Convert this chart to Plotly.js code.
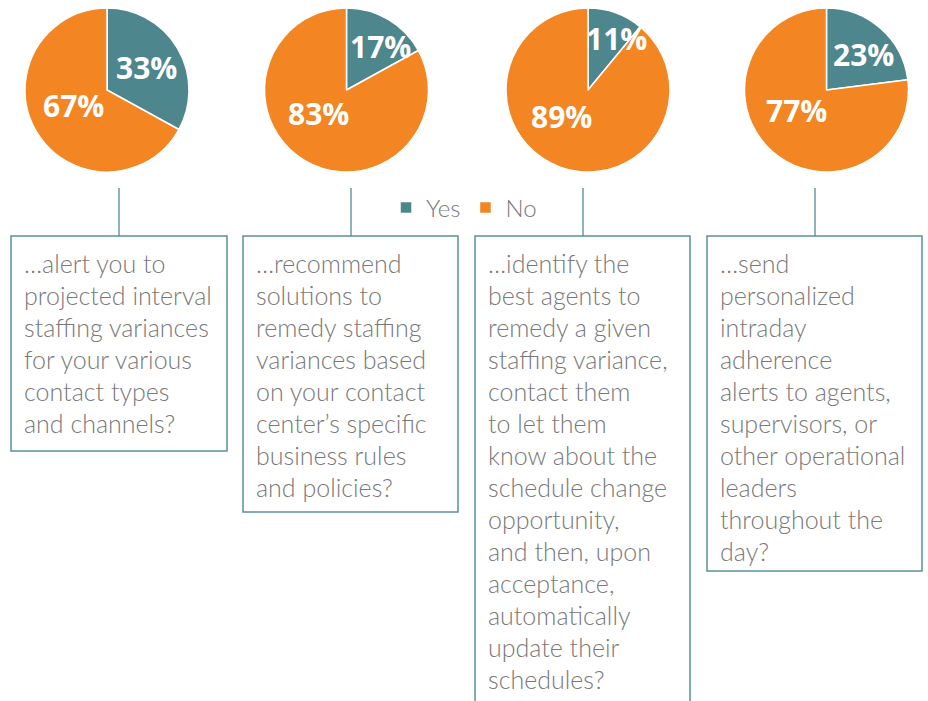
<!DOCTYPE html>
<html>
<head>
<meta charset="utf-8">
<script src="https://cdn.plot.ly/plotly-3.0.1.min.js"></script>
<style>html,body{margin:0;padding:0;background:#fff;}#chart{width:928px;height:701px;}</style>
</head>
<body>
<div id="chart"></div>
<script>
// ---- data ----
const categories = ['Yes', 'No'];
const yesPct = [33, 17, 11, 23];
const noPct = [67, 83, 89, 77];
const question1 = ['\u2026alert you to', 'projected interval', 'staffing variances', 'for your various', 'contact types', 'and channels?'];
const question2 = ['\u2026recommend', 'solutions to', 'remedy staffing', 'variances based', 'on your contact', 'center\u2019s specific', 'business rules', 'and policies?'];
const question3 = ['\u2026identify the', 'best agents to', 'remedy a given', 'staffing variance,', 'contact them', 'to let them', 'know about the', 'schedule change', 'opportunity,', 'and then, upon', 'acceptance,', 'automatically', 'update their', 'schedules?'];
const question4 = ['\u2026send', 'personalized', 'intraday', 'adherence', 'alerts to agents,', 'supervisors, or', 'other operational', 'leaders', 'throughout the', 'day?'];
const questions = [question1, question2, question3, question4];

// ---- layout helpers ----
const W = 928, H = 701;
const TEAL = '#4d868c', ORANGE = '#f38622', GRAY = '#797979';
const px = x => x / W;
const py = y => 1 - y / H;
const pieCx = [107, 346.5, 588, 826.5], pieCy = 90, pieR = 82;
const boxL = [11, 243, 475, 707], boxR = [227, 458, 690, 922];
const boxTop = 236, boxBottom = [451, 512, 706, 571];
const lineX = [119, 351, 583, 815];
const firstLineY = 263, lineStep = 32, textPad = 11;
const deg = Math.PI / 180;

const data = yesPct.map((y, i) => ({
  type: 'pie',
  labels: categories,
  values: [y, noPct[i]],
  sort: false,
  direction: 'clockwise',
  rotation: 0,
  marker: {colors: [TEAL, ORANGE], line: {color: '#ffffff', width: 1.5}},
  textinfo: 'none',
  hoverinfo: 'label+percent',
  domain: {x: [px(pieCx[i] - pieR), px(pieCx[i] + pieR)], y: [py(pieCy + pieR), py(pieCy - pieR)]},
  showlegend: i === 0
}));

const shapes = [];
const annotations = [];
const labelFont = {family: 'Open Sans', size: 30, color: '#ffffff', weight: 700};
yesPct.forEach((y, i) => {
  const tot = y + noPct[i];
  const fy = y / tot;
  // Yes label: near the slice's mid angle, pushed outward/clockwise for thin slices
  const aY = fy * Math.PI + (0.35 - fy) * 40 * deg;
  const kY = 0.56 + (0.33 - fy) * 0.7;
  annotations.push({xref: 'paper', yref: 'paper', showarrow: false, text: y + '%', font: labelFont,
    x: px(pieCx[i] + kY * pieR * Math.sin(aY)), y: py(pieCy - kY * pieR * Math.cos(aY)), xanchor: 'center', yanchor: 'middle'});
  // No label: mid angle of the large slice, biased towards the lower left
  const midN = (fy + (1 - fy) / 2) * 2 * Math.PI;
  const aN = (midN + 250 * deg) / 2;
  const kN = 0.45;
  annotations.push({xref: 'paper', yref: 'paper', showarrow: false, text: noPct[i] + '%', font: labelFont,
    x: px(pieCx[i] + kN * pieR * Math.sin(aN)), y: py(pieCy - kN * pieR * Math.cos(aN)), xanchor: 'center', yanchor: 'middle'});
});

questions.forEach((lines, i) => {
  shapes.push({type: 'line', xref: 'paper', yref: 'paper', x0: px(lineX[i]), x1: px(lineX[i]), y0: py(188), y1: py(boxTop), line: {color: '#8db4b8', width: 2}});
  shapes.push({type: 'rect', xref: 'paper', yref: 'paper', x0: px(boxL[i]), x1: px(boxR[i]), y0: py(boxBottom[i]), y1: py(boxTop), line: {color: '#5a9196', width: 1.5}, fillcolor: 'rgba(0,0,0,0)'});
  lines.forEach((t, j) => {
    annotations.push({xref: 'paper', yref: 'paper', x: px(boxL[i] + textPad), y: py(firstLineY + j * lineStep), xanchor: 'left', yanchor: 'middle', showarrow: false, text: t, align: 'left', font: {family: 'Lato', size: 25, color: GRAY, weight: 300}});
  });
});

const layout = {
  width: W, height: H,
  margin: {l: 0, r: 0, t: 0, b: 0},
  paper_bgcolor: '#ffffff',
  showlegend: true,
  legend: {orientation: 'h', x: 0.5, xanchor: 'center', y: py(208), yanchor: 'middle', font: {family: 'Lato', size: 24, color: GRAY, weight: 300}, itemwidth: 30, traceorder: 'normal'},
  shapes: shapes,
  annotations: annotations
};

Plotly.newPlot('chart', data, layout, {displayModeBar: false, staticPlot: true});
</script>
</body>
</html>
